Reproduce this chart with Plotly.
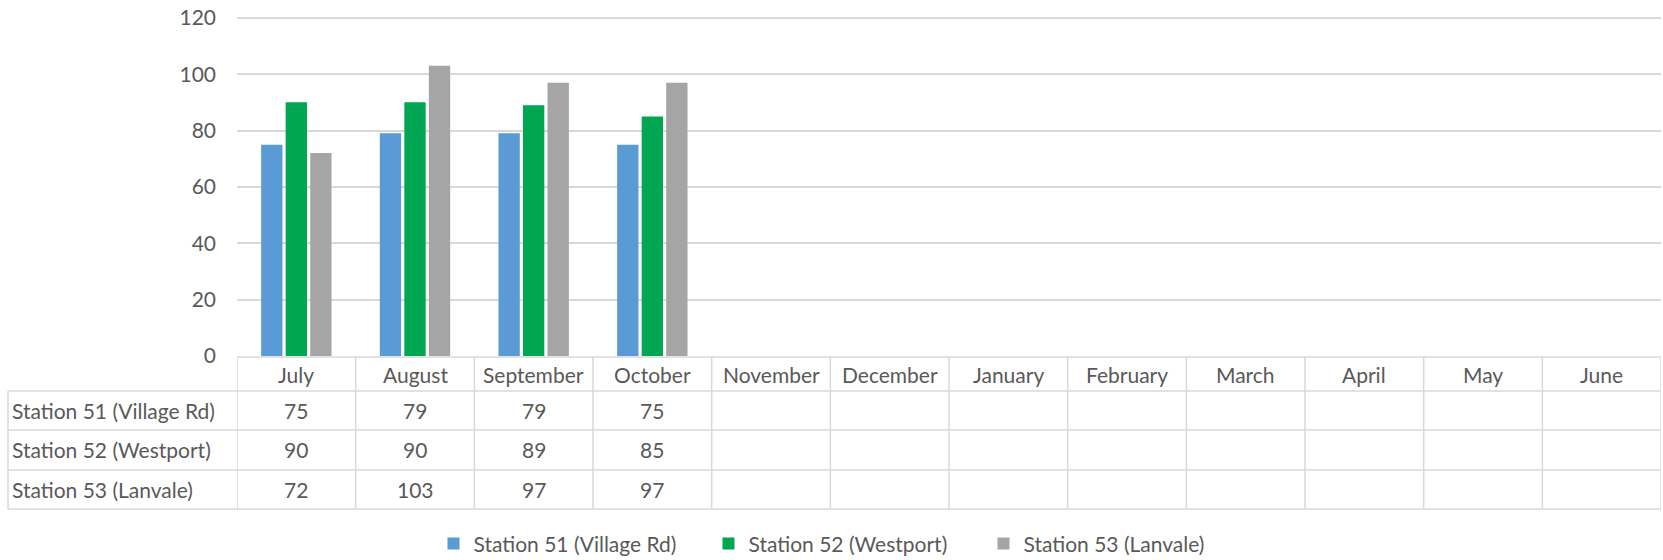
import plotly.graph_objects as go

months = ["July", "August", "September", "October", "November", "December",
          "January", "February", "March", "April", "May", "June"]
station_51 = [75, 79, 79, 75, None, None, None, None, None, None, None, None]
station_52 = [90, 90, 89, 85, None, None, None, None, None, None, None, None]
station_53 = [72, 103, 97, 97, None, None, None, None, None, None, None, None]
series_names = ["Station 51 (Village Rd)", "Station 52 (Westport)", "Station 53 (Lanvale)"]
series_colors = ["#5b9bd5", "#00a651", "#a5a5a5"]

W, H = 1663, 560
YMAX = 121
PXU = (356 - 17.7) / 120          # pixels per unit
L, R, B = 237, 2, 204
T = H - B - YMAX * PXU
PH = H - T - B
PW = W - L - R
FONT = "Lato"
FS = 21
TXT = "#595959"
GRID = "#d9d9d9"


def py(p):
    # pixel row -> paper y
    return (H - B - p) / PH


def px(p):
    return (p - L) / PW


fig = go.Figure()
for name, vals, col in zip(series_names, [station_51, station_52, station_53], series_colors):
    fig.add_trace(go.Bar(x=months, y=vals, name=name, marker=dict(color=col, line=dict(width=0))))

# data table below the plot
row_edges = [357, 391, 430, 470, 509]
shapes = []
line = dict(color=GRID, width=1.5)
for i, yb in enumerate(row_edges):
    x0 = 0 if i == 0 else px(8)
    shapes.append(dict(type="line", xref="paper", yref="paper", x0=x0, x1=1, y0=py(yb), y1=py(yb), line=line))
for k in range(len(months) + 1):
    xv = k - 0.5
    shapes.append(dict(type="line", xref="x", yref="paper", x0=xv, x1=xv,
                       y0=py(row_edges[0]), y1=py(row_edges[-1]), line=line))
shapes.append(dict(type="line", xref="paper", yref="paper", x0=px(8), x1=px(8),
                   y0=py(row_edges[1]), y1=py(row_edges[-1]), line=line))

annotations = []
fnt = dict(family=FONT, size=FS, color=TXT)
for m in months:
    annotations.append(dict(x=m, xref="x", yref="paper", y=py((row_edges[0] + row_edges[1]) / 2 + 1),
                            yanchor="middle", xanchor="center", text=m, showarrow=False, font=fnt))
for r, (name, vals) in enumerate(zip(series_names, [station_51, station_52, station_53])):
    yc = py((row_edges[r + 1] + row_edges[r + 2]) / 2)
    annotations.append(dict(x=px(10), xref="paper", yref="paper", y=yc, xanchor="left", yanchor="middle",
                            text=name, showarrow=False, font=fnt))
    for m, v in zip(months, vals):
        if v is not None:
            annotations.append(dict(x=m, xref="x", yref="paper", y=yc, text=str(v),
                                    xanchor="center", yanchor="middle", showarrow=False, font=fnt))

fig.update_layout(
    width=W, height=H,
    margin=dict(l=L, r=R, t=T, b=B, autoexpand=False),
    paper_bgcolor="white", plot_bgcolor="white",
    font=dict(family=FONT, size=FS, color=TXT),
    barmode="group", bargap=0.38, bargroupgap=0.13,
    shapes=shapes, annotations=annotations,
    xaxis=dict(range=[-0.5, 11.5], showticklabels=False, showgrid=False, zeroline=False,
               showline=False, ticks="", automargin=False),
    yaxis=dict(range=[0, YMAX], tickvals=[0, 20, 40, 60, 80, 100, 120], showgrid=True,
               gridcolor=GRID, gridwidth=1.5, zeroline=False, showline=False,
               ticklabelstandoff=20, automargin=False,
               tickfont=dict(family=FONT, size=FS, color=TXT)),
    legend=dict(orientation="h", x=px(846), xanchor="center", y=py(544), yanchor="middle",
                font=dict(family=FONT, size=FS, color=TXT), itemwidth=30, traceorder="normal",
                entrywidth=230),
    showlegend=True,
)

fig.write_html("out.html", config={"displayModeBar": False},
               post_script="document.body.style.margin='0';")
